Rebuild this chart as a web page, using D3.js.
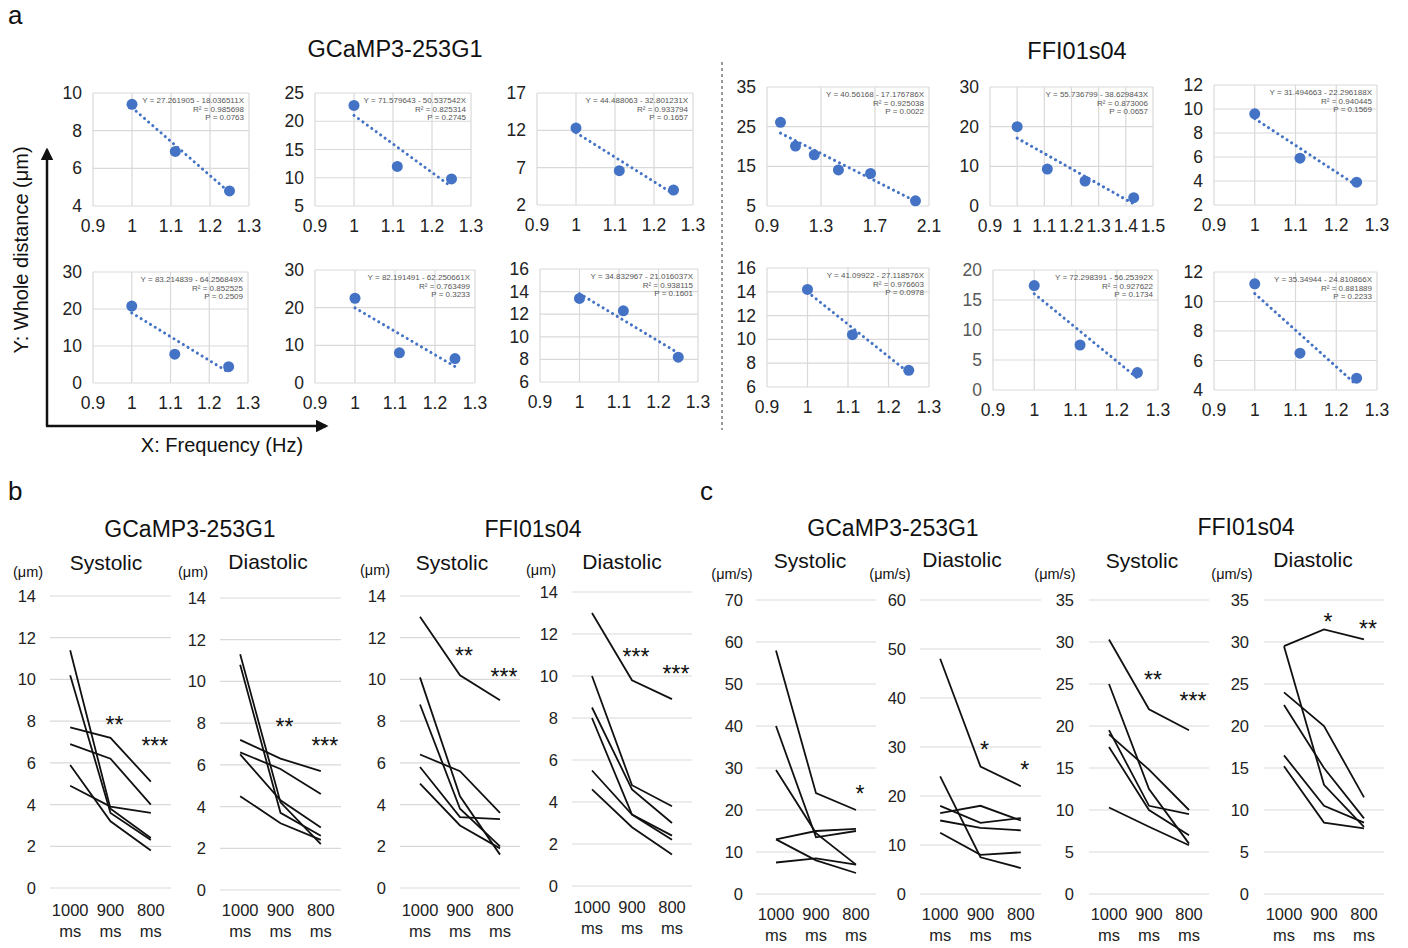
<!DOCTYPE html>
<html>
<head>
<meta charset="utf-8">
<script src="https://cdnjs.cloudflare.com/ajax/libs/d3/7.8.5/d3.min.js"></script>
<style>
  body { margin: 0; background: #fff; }
  text { font-family: "Liberation Sans", Arial, sans-serif; }
</style>
</head>
<body>
<div id="fig"></div>
<script>
// ---------- panel a : whole distance vs frequency ----------
var freq3 = [1, 1.111, 1.25];
var freq4 = [1, 1.111, 1.25, 1.429];
var freq6 = [1, 1.111, 1.25, 1.429, 1.667, 2.0];

var a1Y = [9.4, 6.9, 4.8];
var a2Y = [22.8, 12.0, 9.8];
var a3Y = [12.3, 6.6, 4.0];
var a4Y = [26.1, 20.1, 17.9, 14.1, 13.2, 6.3];
var a5Y = [20.0, 9.3, 6.3, 2.1];
var a6Y = [9.6, 5.9, 3.9];
var a7Y = [20.8, 7.8, 4.4];
var a8Y = [22.5, 8.0, 6.5];
var a9Y = [13.4, 12.3, 8.2];
var a10Y = [14.2, 10.4, 7.4];
var a11Y = [17.4, 7.5, 2.9];
var a12Y = [11.2, 6.5, 4.8];

// fitted lines: intercept, slope
var a1Fit = [27.261905, -18.036511];
var a2Fit = [71.579643, -50.537542];
var a3Fit = [44.488063, -32.801231];
var a4Fit = [40.56168, -17.176786];
var a5Fit = [55.736799, -38.629843];
var a6Fit = [31.494663, -22.296188];
var a7Fit = [83.214839, -64.256849];
var a8Fit = [82.191491, -62.250661];
var a9Fit = [34.832967, -21.016037];
var a10Fit = [41.09922, -27.118576];
var a11Fit = [72.298391, -56.25392];
var a12Fit = [35.34944, -24.810866];

var a1Eq = ["Y = 27.261905 - 18.036511X", "R² = 0.985698", "P = 0.0763"];
var a2Eq = ["Y = 71.579643 - 50.537542X", "R² = 0.825314", "P = 0.2745"];
var a3Eq = ["Y = 44.488063 - 32.801231X", "R² = 0.933794", "P = 0.1657"];
var a4Eq = ["Y = 40.56168 - 17.176786X", "R² = 0.925038", "P = 0.0022"];
var a5Eq = ["Y = 55.736799 - 38.629843X", "R² = 0.873006", "P = 0.0657"];
var a6Eq = ["Y = 31.494663 - 22.296188X", "R² = 0.940445", "P = 0.1569"];
var a7Eq = ["Y = 83.214839 - 64.256849X", "R² = 0.852525", "P = 0.2509"];
var a8Eq = ["Y = 82.191491 - 62.250661X", "R² = 0.763499", "P = 0.3233"];
var a9Eq = ["Y = 34.832967 - 21.016037X", "R² = 0.938115", "P = 0.1601"];
var a10Eq = ["Y = 41.09922 - 27.118576X", "R² = 0.976603", "P = 0.0978"];
var a11Eq = ["Y = 72.298391 - 56.25392X", "R² = 0.927622", "P = 0.1734"];
var a12Eq = ["Y = 35.34944 - 24.810866X", "R² = 0.881889", "P = 0.2233"];

var xTicksStd = [0.9, 1, 1.1, 1.2, 1.3];
var xTicksWide = [0.9, 1.3, 1.7, 2.1];
var xTicksMid = [0.9, 1, 1.1, 1.2, 1.3, 1.4, 1.5];

// ---------- panels b and c : per-animal lines ----------
var cats = ["1000", "900", "800"];

var bSysG = [[11.4, 3.8, 2.4], [10.2, 3.6, 2.3], [7.7, 7.2, 5.1], [6.9, 6.2, 4.0], [5.9, 3.2, 1.8], [4.9, 3.9, 3.6]];
var bDiaG = [[11.3, 4.2, 2.2], [10.8, 3.7, 2.6], [7.2, 6.3, 5.7], [6.6, 5.8, 4.6], [6.5, 4.3, 3.0], [4.5, 3.2, 2.4]];
var bSysF = [[13.0, 10.2, 9.0], [10.1, 4.4, 1.6], [8.8, 3.8, 2.0], [6.4, 5.6, 3.6], [5.8, 3.4, 3.3], [5.0, 3.0, 1.9]];
var bDiaF = [[13.0, 9.8, 8.9], [10.0, 4.8, 3.8], [8.5, 4.6, 3.0], [8.0, 3.4, 2.2], [5.5, 3.4, 2.4], [4.6, 2.8, 1.5]];
var cSysG = [[58, 24, 20], [40, 13.5, 15], [29.5, 14.5, 7], [13, 15, 15.5], [13, 8, 5], [7.5, 8.5, 7]];
var cDiaG = [[48, 26, 22], [24, 7.5, 5.3], [18, 14.5, 15.5], [16.5, 18, 15], [15, 13.5, 13], [12.5, 8, 8.5]];
var cSysF = [[30.3, 22, 19.5], [25, 12.5, 6], [19.5, 10.5, 9.5], [19, 14.8, 10], [17.5, 10, 7], [10.3, 8, 5.8]];
var cDiaF = [[29.5, 31.5, 30.3], [29.5, 13, 8], [24, 20, 11.5], [22.5, 15, 9], [16.5, 10.5, 8.5], [15.2, 8.5, 7.8]];

// significance marks: [category index, value, label]
var bSysGStars = [[1, 8.0, "**"], [2, 7.0, "***"]];
var bDiaGStars = [[1, 8.0, "**"], [2, 7.1, "***"]];
var bSysFStars = [[1, 11.3, "**"], [2, 10.3, "***"]];
var bDiaFStars = [[1, 11.1, "***"], [2, 10.3, "***"]];
var cSysGStars = [[2, 24.8, "*"]];
var cDiaGStars = [[1, 30.2, "*"], [2, 26.1, "*"]];
var cSysFStars = [[1, 26.0, "**"], [2, 23.5, "***"]];
var cDiaFStars = [[1, 32.9, "*"], [2, 32.0, "**"]];

var svg = d3.select("#fig").append("svg")
    .attr("width", 1408)
    .attr("height", 948);

var blue = "#4472c4";
var grid = "#d9d9d9";

function scatter(box, xs, ys, xDom, xTicks, yDom, yStep, fit, eq, labCol) {
    var l = box[0], t = box[1], r = box[2], b = box[3];
    var x = d3.scaleLinear().domain(xDom).range([l, r]);
    var y = d3.scaleLinear().domain(yDom).range([b, t]);
    var yTicks = d3.range(yDom[0], yDom[1] + 0.001, yStep);
    var g = svg.append("g");

    g.selectAll(".vg").data(xTicks).enter().append("line")
        .attr("x1", d => x(d)).attr("x2", d => x(d))
        .attr("y1", t).attr("y2", b)
        .attr("stroke", grid).attr("stroke-width", 1.2);
    g.selectAll(".hg").data(yTicks).enter().append("line")
        .attr("x1", l).attr("x2", r)
        .attr("y1", d => y(d)).attr("y2", d => y(d))
        .attr("stroke", grid).attr("stroke-width", 1.2);

    g.selectAll(".xl").data(xTicks).enter().append("text")
        .attr("x", d => x(d)).attr("y", b + 26)
        .attr("text-anchor", "middle")
        .attr("font-size", 17.5).attr("fill", "#222")
        .text(d => d);
    g.selectAll(".yl").data(yTicks).enter().append("text")
        .attr("x", l - 11).attr("y", d => y(d) + 6)
        .attr("text-anchor", "end")
        .attr("font-size", 17.5).attr("fill", labCol || "#222")
        .text(d => d);

    var x0 = xs[0], x1 = xs[xs.length - 1];
    g.append("line")
        .attr("x1", x(x0)).attr("y1", y(fit[0] + fit[1] * x0))
        .attr("x2", x(x1)).attr("y2", y(fit[0] + fit[1] * x1))
        .attr("stroke", blue).attr("stroke-width", 3)
        .attr("stroke-linecap", "round")
        .attr("stroke-dasharray", "0.1 5.4");

    g.selectAll("circle").data(ys).enter().append("circle")
        .attr("cx", (d, i) => x(xs[i]))
        .attr("cy", d => y(d))
        .attr("r", 5.5)
        .attr("fill", blue);

    g.selectAll(".eq").data(eq).enter().append("text")
        .attr("x", r - 5).attr("y", (d, i) => t + 10 + i * 8.5)
        .attr("text-anchor", "end")
        .attr("font-size", 8).attr("fill", "#555")
        .text(d => d);
}

scatter([93, 93, 249, 206], freq3, a1Y, [0.9, 1.3], xTicksStd, [4, 10], 2, a1Fit, a1Eq);
scatter([315, 93, 471, 206], freq3, a2Y, [0.9, 1.3], xTicksStd, [5, 25], 5, a2Fit, a2Eq);
scatter([537, 93, 693, 205], freq3, a3Y, [0.9, 1.3], xTicksStd, [2, 17], 5, a3Fit, a3Eq);
scatter([767, 87, 929, 206], freq6, a4Y, [0.9, 2.1], xTicksWide, [5, 35], 10, a4Fit, a4Eq);
scatter([990, 87, 1153, 206], freq4, a5Y, [0.9, 1.5], xTicksMid, [0, 30], 10, a5Fit, a5Eq);
scatter([1214, 85, 1377, 205], freq3, a6Y, [0.9, 1.3], xTicksStd, [2, 12], 2, a6Fit, a6Eq);
scatter([93, 272, 248, 383], freq3, a7Y, [0.9, 1.3], xTicksStd, [0, 30], 10, a7Fit, a7Eq);
scatter([315, 270, 475, 383], freq3, a8Y, [0.9, 1.3], xTicksStd, [0, 30], 10, a8Fit, a8Eq);
scatter([540, 269, 698, 382], freq3, a9Y, [0.9, 1.3], xTicksStd, [6, 16], 2, a9Fit, a9Eq);
scatter([767, 268, 929, 387], freq3, a10Y, [0.9, 1.3], xTicksStd, [6, 16], 2, a10Fit, a10Eq);
scatter([993, 270, 1158, 390], freq3, a11Y, [0.9, 1.3], xTicksStd, [0, 20], 5, a11Fit, a11Eq, "#595959");
scatter([1214, 272, 1377, 390], freq3, a12Y, [0.9, 1.3], xTicksStd, [4, 12], 2, a12Fit, a12Eq);

// panel a decorations
function label(x, y, txt, size, anchor, extra) {
    var el = svg.append("text")
        .attr("x", x).attr("y", y)
        .attr("font-size", size)
        .attr("text-anchor", anchor || "middle")
        .attr("fill", "#111")
        .text(txt);
    if (extra) extra(el);
    return el;
}

label(8, 24, "a", 26, "start");
label(395, 57, "GCaMP3-253G1", 23.5);
label(1077, 59, "FFI01s04", 23.5);

svg.append("line")
    .attr("x1", 722).attr("x2", 722).attr("y1", 62).attr("y2", 430)
    .attr("stroke", "#555").attr("stroke-width", 1.2)
    .attr("stroke-dasharray", "3 3");

svg.append("defs").append("marker")
    .attr("id", "arr").attr("viewBox", "0 0 10 10")
    .attr("refX", 8).attr("refY", 5)
    .attr("markerWidth", 5).attr("markerHeight", 5)
    .attr("orient", "auto")
    .append("path").attr("d", "M0,0 L10,5 L0,10 z").attr("fill", "#111");

svg.append("line")
    .attr("x1", 47).attr("y1", 426).attr("x2", 47).attr("y2", 150)
    .attr("stroke", "#111").attr("stroke-width", 2.5)
    .attr("marker-end", "url(#arr)");
svg.append("line")
    .attr("x1", 46).attr("y1", 426).attr("x2", 326).attr("y2", 426)
    .attr("stroke", "#111").attr("stroke-width", 2.5)
    .attr("marker-end", "url(#arr)");

label(0, 0, "Y: Whole distance (μm)", 20, "middle", el => el.attr("transform", "translate(28,250) rotate(-90)"));
label(222, 452, "X: Frequency (Hz)", 20);

// ---------- panels b, c ----------
function lineChart(lay, data, stars, unit, title) {
    var x = d3.scalePoint().domain(cats).range([lay.x0, lay.x1]).padding(0.5);
    var y = d3.scaleLinear().domain([0, lay.max]).range([lay.yBot, lay.yTop]);
    var ticks = d3.range(0, lay.max + 0.001, lay.step);
    var g = svg.append("g");

    g.selectAll(".hg").data(ticks).enter().append("line")
        .attr("x1", lay.x0).attr("x2", lay.x1)
        .attr("y1", d => y(d)).attr("y2", d => y(d))
        .attr("stroke", grid).attr("stroke-width", 1.2);
    g.selectAll(".yl").data(ticks).enter().append("text")
        .attr("x", lay.labX).attr("y", d => y(d) + 6)
        .attr("text-anchor", "end")
        .attr("font-size", 16.5).attr("fill", "#222")
        .text(d => d);

    var line = d3.line().x((d, i) => x(cats[i])).y(d => y(d));
    g.selectAll(".ln").data(data).enter().append("path")
        .attr("d", line)
        .attr("fill", "none").attr("stroke", "#111").attr("stroke-width", 1.8);

    g.selectAll(".st").data(stars).enter().append("text")
        .attr("x", d => x(cats[d[0]]) + 4).attr("y", d => y(d[1]) + 12)
        .attr("text-anchor", "middle")
        .attr("font-size", 23).attr("fill", "#111")
        .text(d => d[2]);

    g.selectAll(".c1").data(cats).enter().append("text")
        .attr("x", d => x(d)).attr("y", lay.catY)
        .attr("text-anchor", "middle").attr("font-size", 16.5).attr("fill", "#222")
        .text(d => d);
    g.selectAll(".c2").data(cats).enter().append("text")
        .attr("x", d => x(d)).attr("y", lay.catY + 21)
        .attr("text-anchor", "middle").attr("font-size", 16.5).attr("fill", "#222")
        .text("ms");

    label(lay.unitX, lay.unitY, unit, 14.5);
    label(lay.titleX, lay.titleY, title, 21);
}

var layB1 = {x0: 50, x1: 171, yTop: 596, yBot: 888, max: 14, step: 2, labX: 36, catY: 916, unitX: 28, unitY: 577, titleX: 106, titleY: 570};
var layB2 = {x0: 220, x1: 341, yTop: 598, yBot: 890, max: 14, step: 2, labX: 206, catY: 916, unitX: 193, unitY: 577, titleX: 268, titleY: 569};
var layB3 = {x0: 400, x1: 520, yTop: 596, yBot: 888, max: 14, step: 2, labX: 386, catY: 916, unitX: 375, unitY: 575, titleX: 452, titleY: 570};
var layB4 = {x0: 572, x1: 692, yTop: 592, yBot: 886, max: 14, step: 2, labX: 558, catY: 913, unitX: 541, unitY: 575, titleX: 622, titleY: 569};
var layC1 = {x0: 756, x1: 876, yTop: 600, yBot: 894, max: 70, step: 10, labX: 743, catY: 920, unitX: 732, unitY: 579, titleX: 810, titleY: 568};
var layC2 = {x0: 920, x1: 1041, yTop: 600, yBot: 894, max: 60, step: 10, labX: 906, catY: 920, unitX: 890, unitY: 579, titleX: 962, titleY: 567};
var layC3 = {x0: 1089, x1: 1209, yTop: 600, yBot: 894, max: 35, step: 5, labX: 1074, catY: 920, unitX: 1055, unitY: 579, titleX: 1142, titleY: 568};
var layC4 = {x0: 1264, x1: 1384, yTop: 600, yBot: 894, max: 35, step: 5, labX: 1249, catY: 920, unitX: 1232, unitY: 579, titleX: 1313, titleY: 567};

label(8, 500, "b", 26, "start");
label(700, 500, "c", 26, "start");
label(190, 537, "GCaMP3-253G1", 23);
label(533, 537, "FFI01s04", 23);
label(893, 536, "GCaMP3-253G1", 23);
label(1246, 535, "FFI01s04", 23);

lineChart(layB1, bSysG, bSysGStars, "(μm)", "Systolic");
lineChart(layB2, bDiaG, bDiaGStars, "(μm)", "Diastolic");
lineChart(layB3, bSysF, bSysFStars, "(μm)", "Systolic");
lineChart(layB4, bDiaF, bDiaFStars, "(μm)", "Diastolic");
lineChart(layC1, cSysG, cSysGStars, "(μm/s)", "Systolic");
lineChart(layC2, cDiaG, cDiaGStars, "(μm/s)", "Diastolic");
lineChart(layC3, cSysF, cSysFStars, "(μm/s)", "Systolic");
lineChart(layC4, cDiaF, cDiaFStars, "(μm/s)", "Diastolic");
</script>
</body>
</html>
